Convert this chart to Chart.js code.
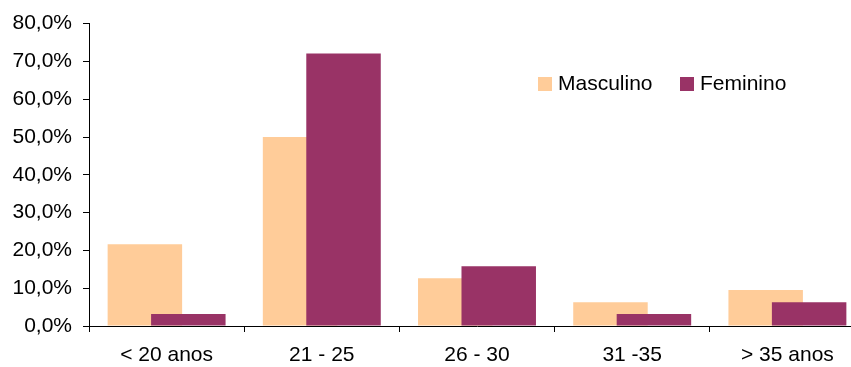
<!DOCTYPE html>
<html>
<head>
<meta charset="utf-8">
<script src="https://cdn.jsdelivr.net/npm/chart.js@4/dist/chart.umd.min.js"></script>
<style>
  html, body { margin: 0; padding: 0; background: #fff; overflow: hidden; }
  #wrap { width: 866px; height: 367px; position: relative; }
</style>
</head>
<body>
<div id="wrap"><canvas id="c"></canvas></div>
<script>
// Faixa etária por sexo (%)
const categories = ['< 20 anos', '21 - 25', '26 - 30', '31 -35', '> 35 anos'];
const masculino = [21.6, 50.0, 12.6, 6.3, 9.5];
const feminino  = [3.2, 72.1, 15.8, 3.2, 6.3];
const yTicks = [0, 10, 20, 30, 40, 50, 60, 70, 80];

const FONT = { family: '"Liberation Sans", Arial, sans-serif', size: 21 };
const PEACH = '#FFCC99';
const PLUM = '#993366';

// Paint the overlapping bars first-to-last so the later series sits on top
const paintInOrder = {
  id: 'paintInOrder',
  beforeDatasetsDraw(chart) {
    const ctx = chart.ctx;
    const area = chart.chartArea;
    ctx.save();
    ctx.beginPath();
    ctx.rect(area.left, area.top - 2, area.right - area.left, area.bottom - area.top + 2);
    ctx.clip();
    chart.getSortedVisibleDatasetMetas().forEach(meta => meta.controller.draw());
    ctx.restore();
    return false;
  }
};

// Legend drawn inside the plot area, top right
const insideLegend = {
  id: 'insideLegend',
  afterDraw(chart) {
    const ctx = chart.ctx;
    const ds = chart.data.datasets;
    const xs = [538, 680];
    ctx.save();
    ctx.font = FONT.size + 'px ' + FONT.family;
    ctx.textBaseline = 'middle';
    ctx.textAlign = 'left';
    ds.forEach((d, i) => {
      ctx.fillStyle = d.backgroundColor;
      ctx.fillRect(xs[i], 77, 14, 14);
      ctx.fillStyle = '#000';
      ctx.fillText(d.label, xs[i] + 20, 84);
    });
    ctx.restore();
  }
};

new Chart(document.getElementById('c'), {
  type: 'bar',
  data: {
    labels: categories,
    datasets: [
      { label: 'Masculino', data: masculino, backgroundColor: PEACH,
        categoryPercentage: 0.56, barPercentage: 1.714 },
      { label: 'Feminino', data: feminino, backgroundColor: PLUM,
        categoryPercentage: 0.56, barPercentage: 1.714 }
    ]
  },
  options: {
    responsive: true,
    maintainAspectRatio: false,
    animation: false,
    layout: { padding: { top: 22, right: 1, bottom: 0, left: 0 } },
    plugins: { legend: { display: false }, tooltip: { enabled: false } },
    scales: {
      x: {
        offset: true,
        grid: { display: true, offset: true, drawOnChartArea: false, drawTicks: true,
                tickLength: 6, color: '#000' },
        border: { display: true, color: '#000', width: 1 },
        ticks: { color: '#000', font: FONT, padding: 11, maxRotation: 0 },
        afterFit(scale) { scale.height = 41; }
      },
      y: {
        min: 0, max: 80,
        afterBuildTicks(scale) { scale.ticks = yTicks.map(v => ({ value: v })); },
        grid: { display: true, drawOnChartArea: false, drawTicks: true,
                tickLength: 6, color: '#000' },
        border: { display: true, color: '#000', width: 1 },
        ticks: {
          color: '#000', font: FONT, padding: 11,
          callback: v => v.toFixed(1).replace('.', ',') + '%'
        },
        afterFit(scale) { scale.width = 89; }
      }
    }
  },
  plugins: [paintInOrder, insideLegend]
});
</script>
</body>
</html>
